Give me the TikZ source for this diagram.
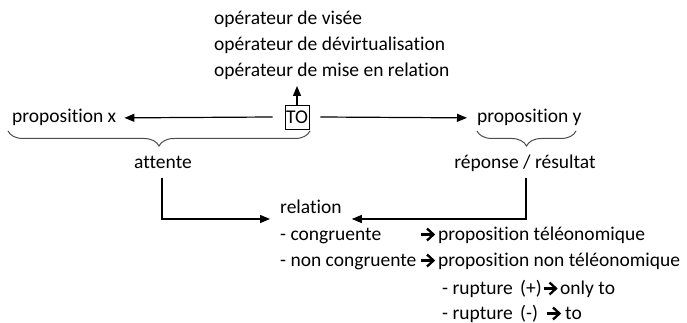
\documentclass[tikz,border=0pt]{standalone}
\usepackage{fontspec}
\setmainfont[Ligatures={NoCommon}]{Carlito}
\usetikzlibrary{arrows.meta,decorations.pathreplacing}
\begin{document}
\begin{tikzpicture}[x=1pt,y=-1pt,
  font=\fontsize{19.5}{23}\selectfont,
  txt/.style={inner sep=0pt,anchor=base west},
  conn/.style={line width=1.2pt,-{Triangle[length=10pt,width=8pt]}},
  bracestyle/.style={draw=black!70,line width=1pt,decorate,decoration={brace,mirror,amplitude=15pt}},
  tarrow/.pic={\draw[line width=2.3pt] (0,0)--(11,0);
               \draw[line width=2.3pt,line join=miter,miter limit=10] (6,-6)--(12.5,0)--(6,6);}]
\useasboundingbox (0,0) rectangle (687,323);
% top operator texts
\node[txt] (op1) at (214,25) {opérateur de visée};
\node[txt] (op2) at (214,51) {opérateur de dévirtualisation};
\node[txt] (op3) at (214,77) {opérateur de mise en relation};
% TO box
\node[draw,line width=0.9pt,minimum width=24pt,minimum height=24pt,inner sep=0pt] (TO) at (297,117) {TO};
\coordinate (uptip) at (297,86);
\draw[conn] (TO.north) -- (uptip);
% propositions
\node[txt] (px) at (12,123) {proposition x};
\node[txt] (py) at (477,123) {proposition y};
\draw[conn] ([xshift=-12pt]TO.west) -- ([xshift=8pt]px.east);
\draw[conn] ([xshift=11pt]TO.east) -- ([xshift=-10pt]py.west);
% braces
\coordinate (bxl) at (8,131);
\coordinate (bxr) at (310,131);
\draw[bracestyle] (bxl) -- (bxr);
\coordinate (byl) at (477,131);
\coordinate (byr) at (576,131);
\draw[bracestyle] (byl) -- (byr);
% labels under braces
\node[txt,anchor=base] (att) at (163,168) {attente};
\node[txt,anchor=base] (rep) at (525,168) {réponse / résultat};
% relation block
\node[txt] (rel) at (280,213) {relation};
\node[txt] (l1a) at (280,240) {- congruente};
\pic at (421,234.5) {tarrow};
\node[txt] (l1b) at (438,240) {proposition téléonomique};
\node[txt] (l2a) at (280,266) {- non congruente};
\pic at (421,260.5) {tarrow};
\node[txt] (l2b) at (438,266) {proposition non téléonomique};
\node[txt] (l3a) at (442,294) {- rupture};
\node[txt] (l3b) at (520,294) {(+)};
\pic at (543.5,288.5) {tarrow};
\node[txt] (l3c) at (560,294) {only to};
\node[txt] (l4a) at (442,319) {- rupture};
\node[txt] (l4b) at (520,319) {(-)};
\pic at (547,313.5) {tarrow};
\node[txt] (l4c) at (565,319) {to};
% connectors to relation
\coordinate (c1) at (162,178);
\coordinate (c2) at (526,178);
\draw[conn] (c1) |- ([xshift=-10pt,yshift=-6pt]rel.base west);
\draw[conn] (c2) |- ([xshift=10pt,yshift=-6pt]rel.base east);
\end{tikzpicture}
\end{document}
